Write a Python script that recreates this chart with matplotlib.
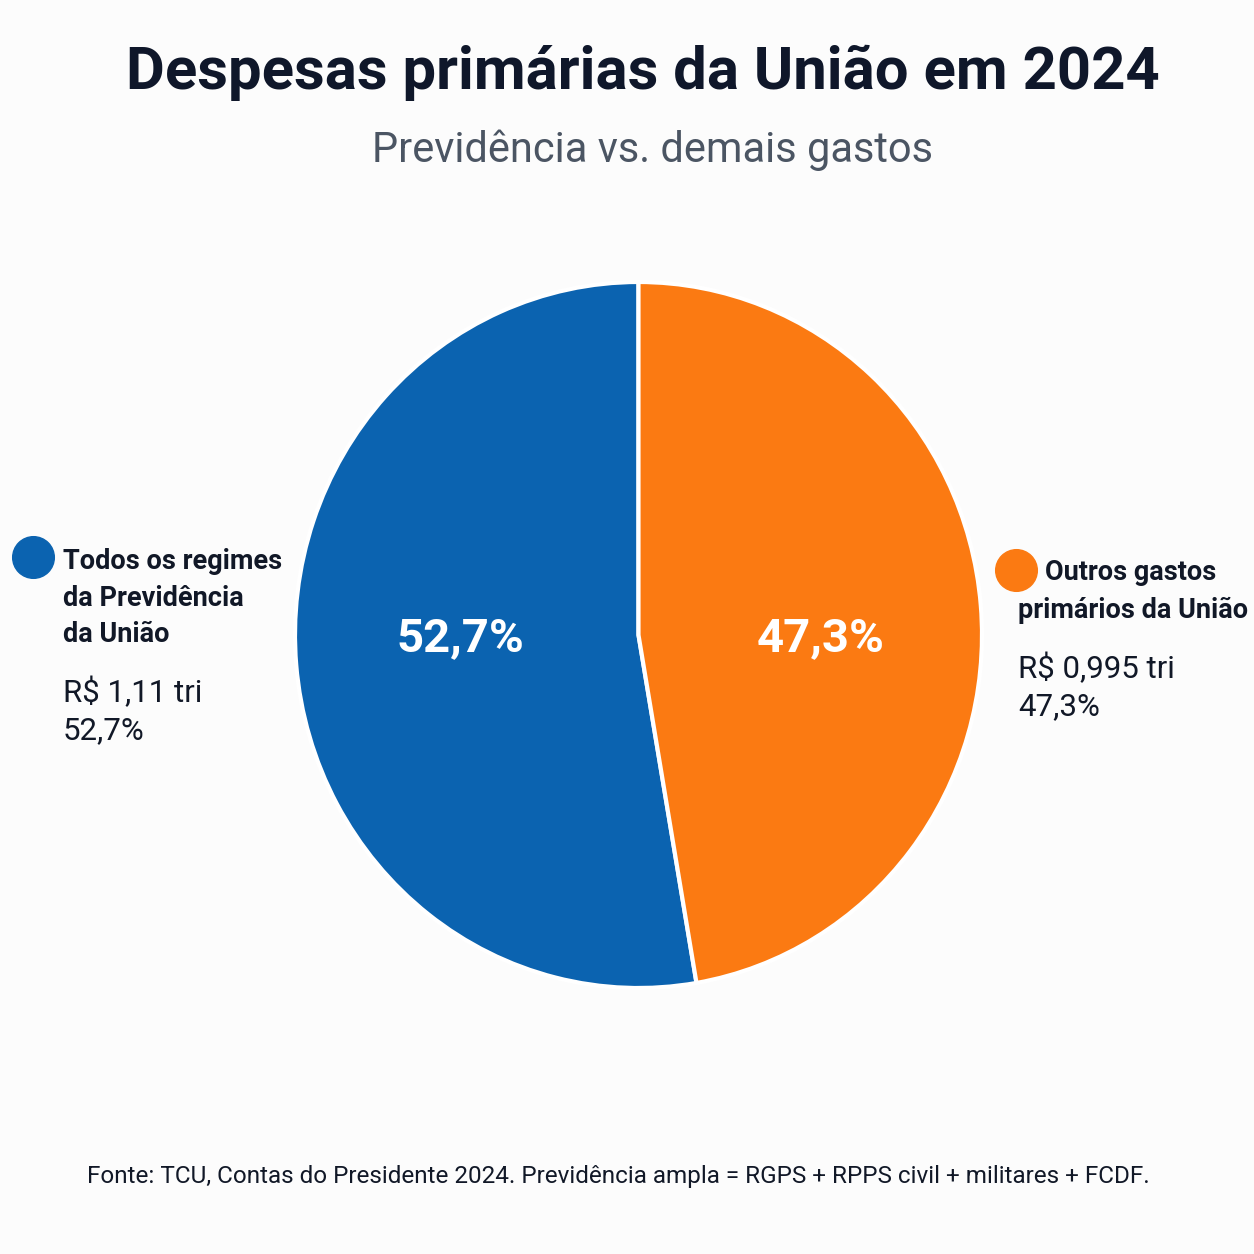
import matplotlib.pyplot as plt

# data
categories = ["Todos os regimes\nda Previdência\nda União", "Outros gastos\nprimários da União"]
values_tri = [1.11, 0.995]
shares = [52.7, 47.3]
value_labels = ["R$ 1,11 tri", "R$ 0,995 tri"]
share_labels = ["52,7%", "47,3%"]
colors = ["#0B63B0", "#FB7A12"]

plt.rcParams["font.family"] = ["Roboto", "DejaVu Sans"]

bg = "#FCFCFC"
dark = "#111827"

fig = plt.figure(figsize=(12.54, 12.54), dpi=100, facecolor=bg)

# overlay in pixel coordinates for text and markers
ov = fig.add_axes([0, 0, 1, 1])
ov.set_xlim(0, 1254)
ov.set_ylim(1254, 0)
ov.axis("off")

# pie (reference is a touch taller than wide)
w, h = 687 / 1254, 706 / 1254
cx, cy = 638.5 / 1254, 1 - 635 / 1254
ax = fig.add_axes([cx - w / 2, cy - h / 2, w, h])
ax.set_facecolor(bg)
wedges, _ = ax.pie(shares, colors=colors, startangle=90, counterclock=True,
                   radius=1.0, wedgeprops=dict(edgecolor="white", linewidth=3))
ax.set_xlim(-1.0, 1.0)
ax.set_ylim(-1.0, 1.0)
ax.set_aspect("auto")
ax.axis("off")

# percentages inside the slices
ax.text(-0.52, -0.01, share_labels[0], color="white", fontsize=34, fontweight="bold",
        ha="center", va="center")
ax.text(0.53, -0.01, share_labels[1], color="white", fontsize=34, fontweight="bold",
        ha="center", va="center")

# titles
ov.text(643, 73, "Despesas primárias da União em 2024", ha="center", va="center",
        fontsize=43, fontweight="bold", color="#0F172A")
ov.text(653, 150, "Previdência vs. demais gastos", ha="center", va="center",
        fontsize=30, color="#4B5563")

# left label block
ov.scatter([33], [557], s=900, color=colors[0], zorder=3)
ov.text(63, 598, categories[0], ha="left", va="center",
        fontsize=19.5, fontweight="bold", color=dark, linespacing=1.45)
ov.text(63, 711, value_labels[0] + "\n" + share_labels[0], ha="left",
        va="center", fontsize=22.5, color=dark, linespacing=1.35)

# right label block
ov.scatter([1016], [570], s=900, color=colors[1], zorder=3)
ov.text(1045, 572, "Outros gastos", ha="left", va="center",
        fontsize=19.5, fontweight="bold", color=dark)
ov.text(1018, 610, "primários da União", ha="left", va="center",
        fontsize=19.5, fontweight="bold", color=dark)
ov.text(1018, 687, value_labels[1] + "\n" + share_labels[1], ha="left",
        va="center", fontsize=22.5, color=dark, linespacing=1.35)

# source
ov.text(618, 1176,
        "Fonte: TCU, Contas do Presidente 2024. Previdência ampla = RGPS + RPPS civil + militares + FCDF.",
        ha="center", va="center", fontsize=17.5, color=dark)

fig.savefig("out.png", dpi=100, facecolor=bg)
